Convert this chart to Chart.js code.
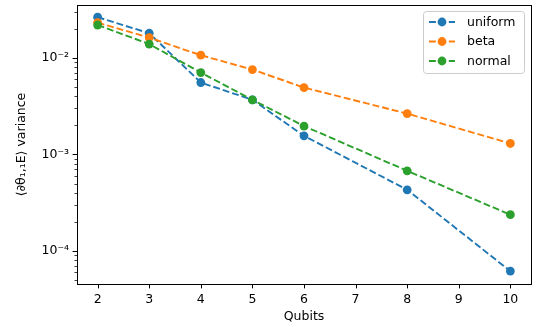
<!DOCTYPE html>
<html>
<head>
<meta charset="utf-8">
<script src="https://cdn.jsdelivr.net/npm/chart.js@4.4.1/dist/chart.umd.min.js"></script>
<style>
  html, body { margin: 0; padding: 0; background: #fff; }
  #wrap { width: 542px; height: 327px; }
</style>
</head>
<body>
<div id="wrap"><canvas id="chart" width="542" height="327"></canvas></div>
<script>
// values
const qubits = [2, 3, 4, 5, 6, 8, 10];
const uniformVar = [0.0264, 0.0180, 0.00556, 0.00368, 0.00156, 0.000431, 0.0000620];
const betaVar = [0.0232, 0.0162, 0.01066, 0.00757, 0.00493, 0.00265, 0.00130];
const normalVar = [0.0219, 0.0139, 0.00705, 0.00368, 0.00197, 0.000678, 0.000238];

const seriesNames = ['uniform', 'beta', 'normal'];
const seriesColors = ['#1f77b4', '#ff7f0e', '#2ca02c'];

const xTicks = [2, 3, 4, 5, 6, 7, 8, 9, 10];
const yMajorTicks = [1e-4, 1e-3, 1e-2];
const yMinorTicks = [5e-5, 6e-5, 7e-5, 8e-5, 9e-5,
  2e-4, 3e-4, 4e-4, 5e-4, 6e-4, 7e-4, 8e-4, 9e-4,
  2e-3, 3e-3, 4e-3, 5e-3, 6e-3, 7e-3, 8e-3, 9e-3,
  2e-2, 3e-2];
const yTickLabels = { '-4': '10\u207B\u2074', '-3': '10\u207B\u00B3', '-2': '10\u207B\u00B2' };

const FONT = 'DejaVu Sans';
const FS = 12.5;
const DASH = [6.9, 3];

function toPoints(ys) {
  return qubits.map((q, i) => ({ x: q, y: ys[i] }));
}

const allSeries = [uniformVar, betaVar, normalVar];
const datasets = allSeries.map((ys, i) => ({
  label: seriesNames[i],
  data: toPoints(ys),
  borderColor: seriesColors[i],
  backgroundColor: seriesColors[i],
  borderWidth: 1.9,
  borderDash: DASH,
  pointRadius: 4.4,
  pointBorderWidth: 0,
  pointBackgroundColor: seriesColors[i],
  tension: 0,
  order: allSeries.length - 1 - i // later series drawn on top, like matplotlib
}));

// spines, tick marks and legend, matplotlib style
const framePlugin = {
  id: 'frame',
  afterDraw(chart) {
    const ctx = chart.ctx;
    const a = chart.chartArea;
    const xs = chart.scales.x, ys = chart.scales.y;
    ctx.save();
    ctx.strokeStyle = '#000';
    ctx.lineWidth = 1;
    ctx.setLineDash([]);
    ctx.strokeRect(Math.round(a.left) + 0.5, Math.round(a.top) + 0.5,
      Math.round(a.right - a.left), Math.round(a.bottom - a.top));

    ctx.beginPath();
    xTicks.forEach(v => {
      const px = Math.round(xs.getPixelForValue(v)) + 0.5;
      ctx.moveTo(px, a.bottom);
      ctx.lineTo(px, a.bottom + 4.4);
    });
    yMajorTicks.forEach(v => {
      const py = Math.round(ys.getPixelForValue(v)) + 0.5;
      ctx.moveTo(a.left, py);
      ctx.lineTo(a.left - 4.4, py);
    });
    ctx.stroke();
    ctx.beginPath();
    ctx.lineWidth = 0.75;
    yMinorTicks.forEach(v => {
      const py = Math.round(ys.getPixelForValue(v)) + 0.5;
      ctx.moveTo(a.left, py);
      ctx.lineTo(a.left - 2.5, py);
    });
    ctx.stroke();

    // legend
    const w = 101, h = 62;
    const lx = a.right - 7 - w, ly = a.top + 6;
    ctx.beginPath();
    ctx.roundRect(lx + 0.5, ly + 0.5, w, h, 3);
    ctx.fillStyle = 'rgba(255,255,255,0.8)';
    ctx.fill();
    ctx.strokeStyle = '#cccccc';
    ctx.lineWidth = 1;
    ctx.stroke();
    ctx.font = FS + 'px "' + FONT + '"';
    ctx.textBaseline = 'middle';
    ctx.textAlign = 'left';
    chart.data.datasets.forEach((ds, i) => {
      const cy = ly + 11 + i * 19.5;
      ctx.beginPath();
      ctx.setLineDash(DASH);
      ctx.strokeStyle = ds.borderColor;
      ctx.lineWidth = 1.9;
      ctx.moveTo(lx + 6, cy);
      ctx.lineTo(lx + 32, cy);
      ctx.stroke();
      ctx.setLineDash([]);
      ctx.beginPath();
      ctx.arc(lx + 19, cy, 4.4, 0, Math.PI * 2);
      ctx.fillStyle = ds.borderColor;
      ctx.fill();
      ctx.fillStyle = '#000';
      ctx.fillText(ds.label, lx + 44, cy + 0.5);
    });
    ctx.restore();
  }
};

new Chart(document.getElementById('chart'), {
  type: 'line',
  data: { datasets },
  options: {
    responsive: false,
    animation: false,
    events: [],
    layout: { padding: { left: 0, right: 11, top: 5, bottom: 0 } },
    plugins: { legend: { display: false }, tooltip: { enabled: false } },
    scales: {
      x: {
        type: 'linear',
        min: 1.6,
        max: 10.4,
        afterBuildTicks: s => { s.ticks = xTicks.map(v => ({ value: v })); },
        afterFit: s => { s.height = 43; s.paddingLeft = 0; s.paddingRight = 0; },
        border: { display: false },
        grid: { drawOnChartArea: false, drawTicks: true, tickLength: 4.4, color: 'rgba(0,0,0,0)' },
        ticks: {
          padding: 3.5,
          color: '#000',
          font: { family: FONT, size: FS },
          maxRotation: 0,
          autoSkip: false,
          callback: v => String(v)
        },
        title: {
          display: true,
          text: 'Qubits',
          color: '#000',
          font: { family: FONT, size: FS },
          padding: { top: 0, bottom: 2.5 }
        }
      },
      y: {
        type: 'logarithmic',
        min: 4.56e-5,
        max: 0.0353,
        afterBuildTicks: s => { s.ticks = yMajorTicks.map(v => ({ value: v })); },
        afterFit: s => { s.width = 77; s.paddingTop = 0; s.paddingBottom = 0; },
        border: { display: false },
        grid: { drawOnChartArea: false, drawTicks: true, tickLength: 4.4, color: 'rgba(0,0,0,0)' },
        ticks: {
          padding: 3.5,
          color: '#000',
          font: { family: FONT, size: FS },
          autoSkip: false,
          callback: v => yTickLabels[String(Math.round(Math.log10(v)))] || ''
        },
        title: {
          display: true,
          text: '\u27E8\u2202\u03B8\u2081,\u2081E\u27E9 variance',
          color: '#000',
          font: { family: FONT, size: FS },
          padding: { top: 14, bottom: 0 }
        }
      }
    }
  },
  plugins: [framePlugin]
});
</script>
</body>
</html>
